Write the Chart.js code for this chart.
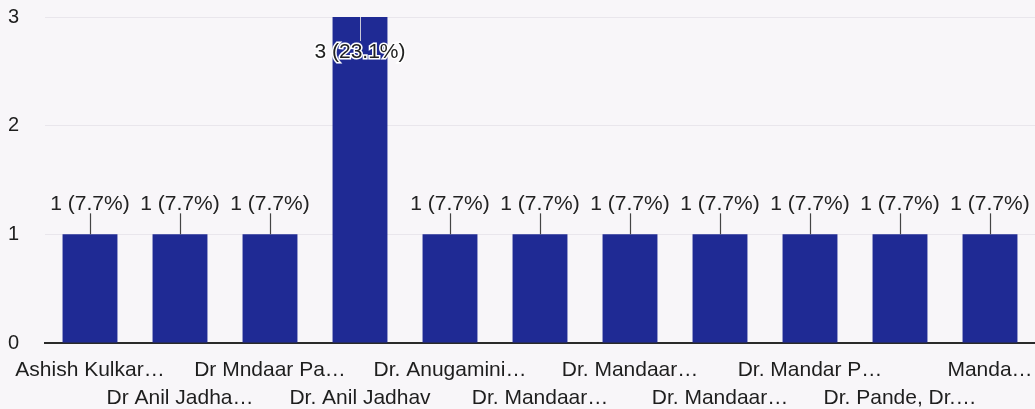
<!DOCTYPE html>
<html>
  <head>
    <meta charset="UTF-8" />
    <title>Responses</title>
    <script src="https://cdn.jsdelivr.net/npm/chart.js"></script>
    <style type="text/css">
      html, body{
          margin:0;
          padding:0;
          background:#f8f6f9;
      }
      #box{
          width:1035px;
          height:409px;
      }
    </style>
  </head>

  <body>
    <div id="box">
      <canvas id="responses" width="1035" height="409"></canvas>
    </div>

    <script>
      // names as they appear (already cut short) under the bars
      var names = [
        "Ashish Kulkar\u2026",
        "Dr Anil Jadha\u2026",
        "Dr Mndaar Pa\u2026",
        "Dr. Anil Jadhav",
        "Dr. Anugamini\u2026",
        "Dr. Mandaar\u2026",
        "Dr. Mandaar\u2026",
        "Dr. Mandaar\u2026",
        "Dr. Mandar P\u2026",
        "Dr. Pande, Dr.\u2026",
        "Manda\u2026"
      ];
      var counts = [1, 1, 1, 3, 1, 1, 1, 1, 1, 1, 1];
      var yTicks = [0, 1, 2, 3];

      var total = counts.reduce(function(a, b){ return a + b; }, 0);
      var FONT = "'Liberation Sans', Arial, sans-serif";

      // count + percent labels with the little leader line
      var valueLabels = {
        id: 'valueLabels',
        afterDatasetsDraw: function(chart){
          var ctx = chart.ctx;
          var meta = chart.getDatasetMeta(0);
          var top = chart.chartArea.top;
          ctx.save();
          ctx.font = "21px " + FONT;
          ctx.textAlign = "center";
          ctx.textBaseline = "middle";
          meta.data.forEach(function(bar, i){
            var v = counts[i];
            var txt = v + " (" + (v / total * 100).toFixed(1) + "%)";
            var x = bar.x, y = bar.y;
            if (y - top < 40) {
              // no room above: put it inside the bar
              ctx.strokeStyle = "#c8c8d8";
              ctx.lineWidth = 1;
              ctx.beginPath();
              ctx.moveTo(x + 0.5, y);
              ctx.lineTo(x + 0.5, y + 24);
              ctx.stroke();
              ctx.lineWidth = 3;
              ctx.strokeStyle = "#ffffff";
              ctx.strokeText(txt, x, y + 35);
              ctx.fillStyle = "#222";
              ctx.fillText(txt, x, y + 35);
            } else {
              ctx.strokeStyle = "#444";
              ctx.lineWidth = 1.2;
              ctx.beginPath();
              ctx.moveTo(x + 0.5, y);
              ctx.lineTo(x + 0.5, y - 21);
              ctx.stroke();
              ctx.fillStyle = "#222";
              ctx.fillText(txt, x, y - 30);
            }
          });
          ctx.restore();
        }
      };

      new Chart(document.getElementById('responses'), {
        type: 'bar',
        data: {
          labels: names,
          datasets: [{
            data: counts,
            backgroundColor: '#1f2a94',
            borderWidth: 0,
            barPercentage: 0.61,
            categoryPercentage: 1.0
          }]
        },
        options: {
          responsive: false,
          animation: false,
          layout: {
            padding: { top: 17, left: 8, right: 0, bottom: 0 }
          },
          plugins: {
            legend: { display: false },
            tooltip: { enabled: false }
          },
          scales: {
            x: {
              grid: { display: false, drawTicks: false },
              border: { color: '#2a2a2a', width: 2 },
              afterFit: function(scale){
                scale.height = 66;
                // let the plot run to the right edge
                scale.paddingLeft = 0;
                scale.paddingRight = 0;
              },
              ticks: {
                autoSkip: false,
                maxRotation: 0,
                minRotation: 0,
                padding: 13,
                color: '#1e1e1e',
                font: { family: FONT, size: 21, lineHeight: '28px' },
                callback: function(value, index){
                  // stagger the names over two rows
                  return index % 2 === 0 ? [names[index], ''] : ['', names[index]];
                }
              }
            },
            y: {
              min: yTicks[0],
              max: yTicks[yTicks.length - 1],
              afterBuildTicks: function(scale){
                scale.ticks = yTicks.map(function(v){ return { value: v }; });
              },
              afterFit: function(scale){
                scale.width = 37;
              },
              border: { display: false },
              grid: { color: '#e9e6ec', drawTicks: false },
              ticks: {
                crossAlign: 'far',
                padding: 0,
                color: '#1e1e1e',
                font: { family: FONT, size: 20 }
              }
            }
          }
        },
        plugins: [valueLabels]
      });
    </script>
  </body>
</html>
